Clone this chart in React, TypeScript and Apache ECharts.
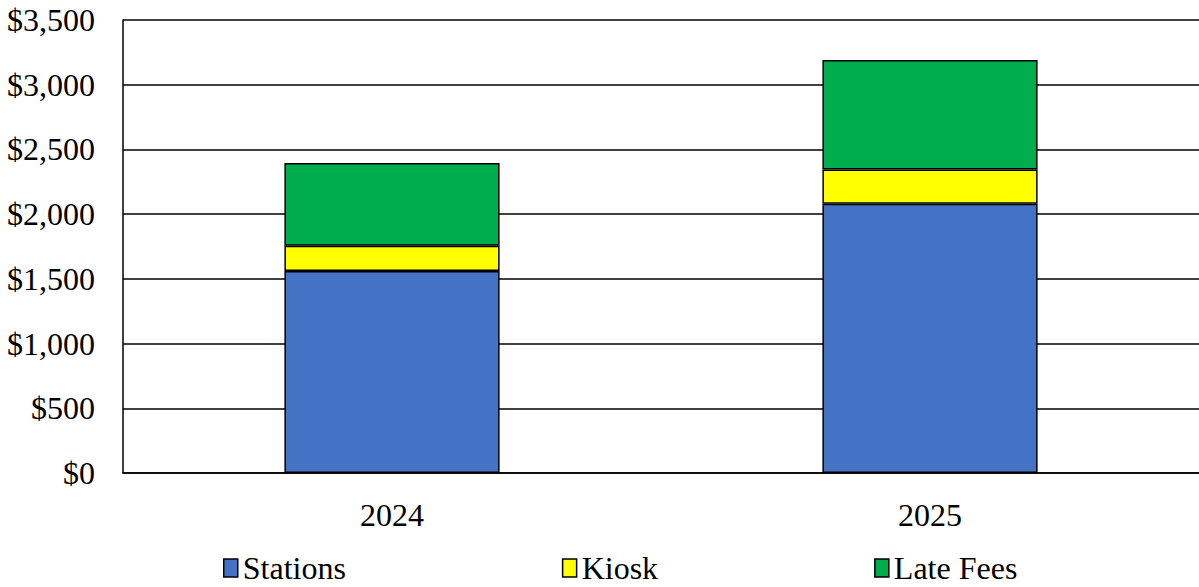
import React, { useEffect, useRef } from "react";
import * as echarts from "echarts";

const categories = ["2024", "2025"];
const stations = [1560, 2080];
const kiosk = [195, 265];
const lateFees = [640, 845];
const yTicks = { min: 0, max: 3500, interval: 500 };

const FONT = "Liberation Serif";

export default function App() {
  const ref = useRef<HTMLDivElement>(null);
  useEffect(() => {
    if (!ref.current) return;
    const chart = echarts.init(ref.current, undefined, { renderer: "svg" });
    const mk = (name: string, data: number[], color: string) => ({
      name,
      type: "bar",
      stack: "total",
      data,
      barWidth: "40%",
      itemStyle: { color, borderColor: "#000", borderWidth: 1.5 },
    });
    chart.setOption({
      animation: false,
      textStyle: { fontFamily: FONT },
      grid: { left: 123, width: 1081, top: 20, bottom: 114, containLabel: false },
      legend: {
        bottom: -2,
        left: 218,
        itemGap: 216,
        itemWidth: 14,
        itemHeight: 18,
        icon: "rect",
        itemStyle: { borderColor: "#000", borderWidth: 1.5 },
        textStyle: { fontFamily: FONT, fontSize: 32, color: "#000" },
        data: ["Stations", "Kiosk", "Late Fees"],
      },
      xAxis: {
        type: "category",
        data: categories,
        axisLine: { lineStyle: { color: "#000", width: 1.5 } },
        axisTick: { show: false },
        axisLabel: { fontFamily: FONT, fontSize: 32, color: "#000", margin: 26 },
      },
      yAxis: {
        type: "value",
        min: yTicks.min,
        max: yTicks.max,
        interval: yTicks.interval,
        axisLine: { show: true, lineStyle: { color: "#000", width: 1.5 } },
        axisTick: { show: false },
        splitLine: { lineStyle: { color: "#000", width: 1.5 } },
        axisLabel: {
          fontFamily: FONT,
          fontSize: 32,
          color: "#000",
          margin: 28,
          formatter: (v: number) => "$" + v.toLocaleString("en-US"),
        },
      },
      series: [
        mk("Stations", stations, "#4472C4"),
        mk("Kiosk", kiosk, "#FFFF00"),
        mk("Late Fees", lateFees, "#00AD4E"),
      ],
    });
    return () => chart.dispose();
  }, []);
  return <div ref={ref} style={{ width: 1199, height: 587, position: "absolute", left: 0, top: 0 }} />;
}
